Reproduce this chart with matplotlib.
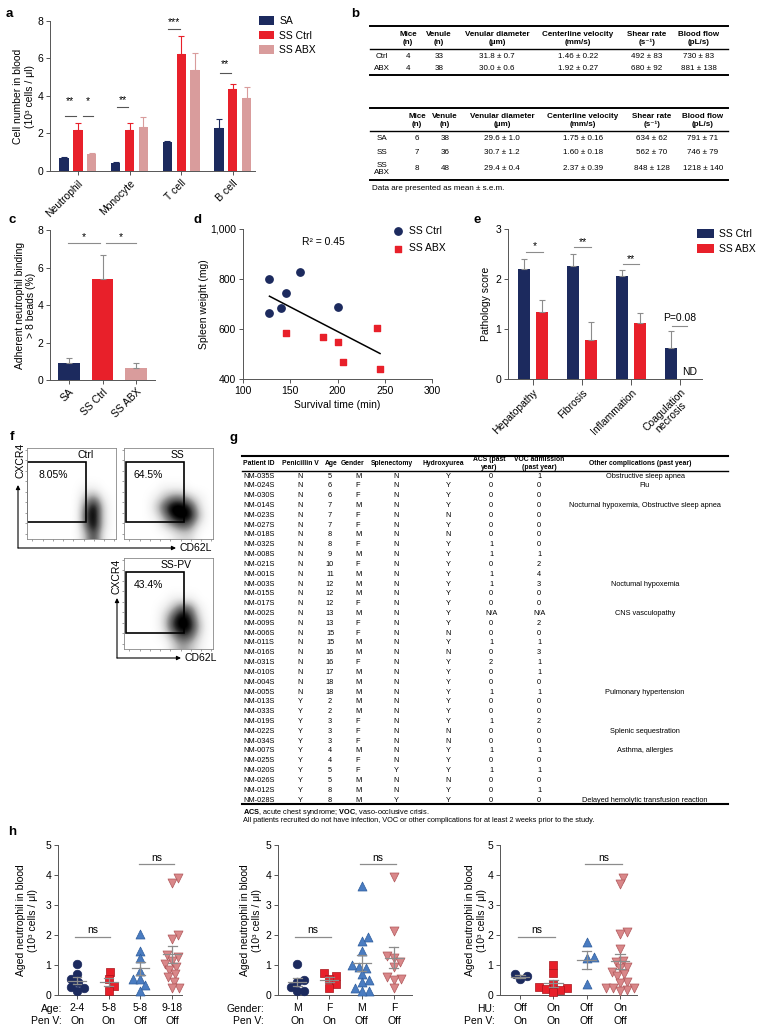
import numpy as np
import matplotlib
matplotlib.use("Agg")
import matplotlib.pyplot as plt
from matplotlib.patches import Rectangle
from matplotlib.ticker import FuncFormatter

plt.rcParams['font.family'] = ['Liberation Sans', 'DejaVu Sans']
plt.rcParams['mathtext.fontset'] = 'custom'
plt.rcParams['mathtext.rm'] = 'Liberation Sans'
plt.rcParams['mathtext.bf'] = 'Liberation Sans:bold'
plt.rcParams['font.size'] = 7.5
plt.rcParams['axes.linewidth'] = 0.7
plt.rcParams['axes.edgecolor'] = '#555555'
plt.rcParams['xtick.color'] = '#555555'
plt.rcParams['ytick.color'] = '#555555'
plt.rcParams['xtick.labelcolor'] = 'black'
plt.rcParams['ytick.labelcolor'] = 'black'

NAVY = '#1c2a5e'
RED = '#e8202a'
PINK = '#d99c9c'
BLUE = '#4a7cc1'
PINK2 = '#d98789'
GRAY = '#8c8c8c'

# ---- a: cell numbers in blood
cell_types = ['Neutrophil', 'Monocyte', 'T cell', 'B cell']
a_sa = [0.68, 0.43, 1.52, 2.30]
a_sa_err = [0.06, 0.05, 0.08, 0.46]
a_ctrl = [2.16, 2.17, 6.22, 4.35]
a_ctrl_err = [0.42, 0.40, 0.98, 0.27]
a_abx = [0.88, 2.37, 5.37, 3.87]
a_abx_err = [0.07, 0.52, 0.90, 0.62]

# ---- b: intravital tables
b1_group = ['Ctrl', 'ABX']
b1_mice = ['4', '4']
b1_venule = ['33', '38']
b1_diam = ['31.8 ± 0.7', '30.0 ± 0.6']
b1_vel = ['1.46 ± 0.22', '1.92 ± 0.27']
b1_shear = ['492 ± 83', '680 ± 92']
b1_flow = ['730 ± 83', '881 ± 138']

b2_group = ['SA', 'SS', 'SS\nABX']
b2_mice = ['6', '7', '8']
b2_venule = ['38', '36', '48']
b2_diam = ['29.6 ± 1.0', '30.7 ± 1.2', '29.4 ± 0.4']
b2_vel = ['1.75 ± 0.16', '1.60 ± 0.18', '2.37 ± 0.39']
b2_shear = ['634 ± 62', '562 ± 70', '848 ± 128']
b2_flow = ['791 ± 71', '746 ± 79', '1218 ± 140']

b_headers = ['Mice\n(n)', 'Venule\n(n)', 'Venular diameter\n(μm)',
             'Centerline velocity\n(mm/s)', 'Shear rate\n(s⁻¹)', 'Blood flow\n(pL/s)']

# ---- c: adherent neutrophils
c_groups = ['SA', 'SS Ctrl', 'SS ABX']
c_mean = [0.90, 5.40, 0.62]
c_err = [0.30, 1.25, 0.30]

# ---- d: spleen weight vs survival
d_ctrl_time = [128, 128, 140, 145, 160, 200]
d_ctrl_weight = [800, 664, 684, 744, 828, 688]
d_abx_time = [145, 185, 200, 206, 242, 245]
d_abx_weight = [584, 568, 550, 468, 604, 440]

# ---- e: pathology score
e_cats = ['Hepatopathy', 'Fibrosis', 'Inflammation', 'Coagulation\nnecrosis']
e_ctrl = [2.20, 2.26, 2.06, 0.62]
e_ctrl_err = [0.20, 0.24, 0.12, 0.34]
e_abx = [1.34, 0.78, 1.12, 0.0]
e_abx_err = [0.24, 0.36, 0.20, 0.0]

# ---- f: flow cytometry (event density read on a 10 x 10 grid, top row first)
f_ctrl = [[0] * 10] * 4 + [
    [0, 0, 0, 0, 0, 0, 1, 1, 0, 0],
    [0, 0, 0, 0, 0, 0, 3, 5, 1, 0],
    [0, 0, 0, 0, 0, 0, 5, 9, 2, 0],
    [0, 0, 0, 0, 0, 0, 6, 9, 2, 0],
    [0, 0, 0, 0, 0, 0, 5, 9, 2, 0],
    [0, 0, 0, 0, 0, 0, 3, 7, 1, 0]]
f_ss = [[0] * 10] * 4 + [
    [0, 0, 0, 0, 1, 1, 1, 0, 0, 0],
    [0, 0, 0, 1, 3, 5, 5, 3, 1, 0],
    [0, 0, 0, 2, 6, 9, 9, 7, 2, 0],
    [0, 0, 0, 1, 4, 8, 9, 8, 3, 0],
    [0, 0, 0, 0, 2, 4, 6, 5, 1, 0],
    [0, 0, 0, 0, 0, 1, 2, 2, 0, 0]]
f_sspv = [[0] * 10] * 4 + [
    [0, 0, 0, 0, 0, 1, 1, 1, 0, 0],
    [0, 0, 0, 0, 1, 3, 6, 5, 1, 0],
    [0, 0, 0, 0, 2, 6, 9, 7, 2, 0],
    [0, 0, 0, 0, 2, 7, 9, 8, 3, 0],
    [0, 0, 0, 0, 1, 4, 7, 6, 2, 0],
    [0, 0, 0, 0, 0, 2, 4, 3, 1, 0]]
f_titles = ['Ctrl', 'SS', 'SS-PV']
f_pct = ['8.05%', '64.5%', '43.4%']

# ---- g: patient table
g_headers = ['Patient ID', 'Penicillin V', 'Age', 'Gender', 'Splenectomy', 'Hydroxyurea',
             'ACS (past\nyear)', 'VOC admission\n(past year)', 'Other complications (past year)']
g_id = ['NM-035S', 'NM-024S', 'NM-030S', 'NM-014S', 'NM-023S', 'NM-027S', 'NM-018S', 'NM-032S',
        'NM-008S', 'NM-021S', 'NM-001S', 'NM-003S', 'NM-015S', 'NM-017S', 'NM-002S', 'NM-009S',
        'NM-006S', 'NM-011S', 'NM-016S', 'NM-031S', 'NM-010S', 'NM-004S', 'NM-005S', 'NM-013S',
        'NM-033S', 'NM-019S', 'NM-022S', 'NM-034S', 'NM-007S', 'NM-025S', 'NM-020S', 'NM-026S',
        'NM-012S', 'NM-028S']
g_penv = ['N'] * 23 + ['Y'] * 11
g_age = [5, 6, 6, 7, 7, 7, 8, 8, 9, 10, 11, 12, 12, 12, 13, 13, 15, 15, 16, 16, 17, 18, 18,
         2, 2, 3, 3, 3, 4, 4, 5, 5, 8, 8]
g_gender = ['M', 'F', 'F', 'M', 'F', 'F', 'M', 'F', 'M', 'F', 'M', 'M', 'M', 'F', 'M', 'F', 'F',
            'M', 'M', 'F', 'M', 'M', 'M', 'M', 'M', 'F', 'F', 'F', 'M', 'F', 'F', 'M', 'M', 'M']
g_splen = ['N'] * 30 + ['Y', 'N', 'N', 'Y']
g_hu = ['Y', 'Y', 'Y', 'Y', 'N', 'Y', 'N', 'Y', 'Y', 'Y', 'Y', 'Y', 'Y', 'Y', 'Y', 'Y', 'N',
        'Y', 'N', 'Y', 'Y', 'Y', 'Y', 'Y', 'Y', 'Y', 'N', 'N', 'Y', 'Y', 'Y', 'N', 'Y', 'Y']
g_acs = ['0', '0', '0', '0', '0', '0', '0', '1', '1', '0', '1', '1', '0', '0', 'N/A', '0', '0',
         '1', '0', '2', '0', '0', '1', '0', '0', '1', '0', '0', '1', '0', '1', '0', '0', '0']
g_voc = ['1', '0', '0', '0', '0', '0', '0', '0', '1', '2', '4', '3', '0', '0', 'N/A', '2', '0',
         '1', '3', '1', '1', '0', '1', '0', '0', '2', '0', '0', '1', '0', '1', '0', '1', '0']
g_other = [''] * 34
g_other[0] = 'Obstructive sleep apnea'
g_other[1] = 'Flu'
g_other[3] = 'Nocturnal hypoxemia, Obstructive sleep apnea'
g_other[11] = 'Noctumal hypoxemia'
g_other[14] = 'CNS vasculopathy'
g_other[22] = 'Pulmonary hypertension'
g_other[26] = 'Splenic sequestration'
g_other[28] = 'Asthma, allergies'
g_other[33] = 'Delayed hemolytic transfusion reaction'

# ---- h: aged neutrophils in patients
h_age_ticks = ['2-4\nOn', '5-8\nOn', '5-8\nOff', '9-18\nOff']
h_age_24_on = [1.02, 0.70, 0.55, 0.42, 0.28, 0.22, 0.12]
h_age_58_on = [0.78, 0.55, 0.30, 0.12]
h_age_58_off = [2.05, 1.48, 1.22, 0.80, 0.55, 0.52, 0.33, 0.15]
h_age_918_off = [3.90, 3.75, 2.00, 1.88, 1.32, 1.28, 1.15, 1.05, 0.95, 0.85, 0.70, 0.60,
                 0.45, 0.25, 0.22]
h_sex_ticks = ['M\nOn', 'F\nOn', 'M\nOff', 'F\nOff']
h_m_on = [1.02, 0.50, 0.45, 0.28, 0.15, 0.12]
h_f_on = [0.72, 0.65, 0.55, 0.38, 0.25]
h_m_off = [3.62, 1.92, 1.80, 1.48, 1.00, 0.95, 0.90, 0.70, 0.50, 0.45, 0.25, 0.15, 0.12]
h_f_off = [3.92, 2.12, 1.30, 1.25, 1.10, 0.95, 0.60, 0.52, 0.50, 0.22]
h_hu_ticks = ['Off\nOn', 'On\nOn', 'Off\nOff', 'On\nOff']
h_huoff_on = [0.70, 0.62, 0.52]
h_huon_on = [1.00, 0.74, 0.36, 0.28, 0.22, 0.20, 0.17, 0.11]
h_huoff_off = [1.78, 1.24, 1.26, 0.36]
h_huon_off = [3.91, 3.69, 2.10, 2.03, 1.55, 1.15, 1.10, 0.95, 0.90, 0.78, 0.70, 0.62, 0.45,
              0.40, 0.25, 0.25, 0.22, 0.18, 0.15]

W, H = 768, 1035
fig = plt.figure(figsize=(W / 100, H / 100), dpi=100)
ov = fig.add_axes([0, 0, 1, 1])
ov.set_xlim(0, W)
ov.set_ylim(H, 0)
ov.axis('off')


def axpx(x0, y0, x1, y1):
    return fig.add_axes([x0 / W, 1 - y1 / H, (x1 - x0) / W, (y1 - y0) / H])


def clean(ax):
    for s in ['top', 'right']:
        ax.spines[s].set_visible(False)
    ax.tick_params(length=3, width=0.7, labelsize=7.5, pad=2)
    ax.patch.set_alpha(0)


def sig(ax, x1, x2, y, ty, s, col='#555555'):
    ax.plot([x1, x2], [y, y], color=col, lw=0.8, clip_on=False)
    ax.text((x1 + x2) / 2, ty, s, ha='center', va='center', fontsize=7.5)


for lab, x, y in [('a', 9, 14), ('b', 355, 14), ('c', 12, 220), ('d', 197, 220),
                  ('e', 477, 220), ('f', 12, 437), ('g', 233, 438), ('h', 12, 832)]:
    ov.text(x, y, lab, fontsize=9.5, fontweight='bold', ha='center', va='center')

# ---------------- a
ax = axpx(50, 21, 255, 171)
clean(ax)
xa = np.arange(len(cell_types))
for off, vals, errs, col, lab in [(-0.27, a_sa, a_sa_err, NAVY, 'SA'),
                                  (0.0, a_ctrl, a_ctrl_err, RED, 'SS Ctrl'),
                                  (0.27, a_abx, a_abx_err, PINK, 'SS ABX')]:
    ax.bar(xa + off, vals, 0.18, color=col, label=lab,
           yerr=[np.zeros(len(vals)), errs],
           error_kw=dict(ecolor=col, elinewidth=0.8, capsize=2, capthick=0.8))
ax.set_xlim(-0.54, 3.43)
ax.set_ylim(0, 8)
ax.set_yticks([0, 2, 4, 6, 8])
ax.set_xticks(xa)
ax.set_xticklabels(cell_types, rotation=45, ha='right', rotation_mode='anchor')
ax.set_ylabel('Cell number in blood\n(10³ cells / μl)', fontsize=7.5)
ax.yaxis.set_label_coords(-0.075, 0.5)
sig(ax, -0.25, -0.04, 2.93, 3.75, '**')
sig(ax, 0.10, 0.29, 2.93, 3.75, '*')
sig(ax, 0.75, 0.98, 3.40, 3.78, '**')
sig(ax, 1.75, 1.98, 7.60, 7.92, '***')
sig(ax, 2.75, 2.96, 5.23, 5.70, '**')
ax.legend(loc='upper left', bbox_to_anchor=(259 / W, 1 - 16 / H),
          bbox_transform=fig.transFigure, frameon=False, fontsize=7.5,
          handlelength=1.45, handleheight=0.9, handletextpad=0.5,
          labelspacing=0.45, borderaxespad=0, borderpad=0)


# ---------------- b
def table(x0, x1, top, hdr_y, hdr_line, bottom, col_x, row_y, groups, cols, fs=5.8):
    for y, lw in [(top, 1.4), (hdr_line, 1.0), (bottom, 1.4)]:
        ov.plot([x0, x1], [y, y], color='black', lw=lw)
    for xh, h in zip(col_x[1:], b_headers):
        ov.text(xh, hdr_y, h, ha='center', va='center', fontsize=fs,
                fontweight='bold', linespacing=1.25)
    for i, y in enumerate(row_y):
        ov.text(col_x[0], y, groups[i], ha='center', va='center', fontsize=fs,
                linespacing=1.15)
        for xc, col in zip(col_x[1:], cols):
            ov.text(xc, y, col[i], ha='center', va='center', fontsize=fs)


table(370, 728, 26, 38.5, 49, 75, [382, 408, 439, 497, 578, 647, 699], [56, 69],
      b1_group, [b1_mice, b1_venule, b1_diam, b1_vel, b1_shear, b1_flow])
table(370, 728, 108, 120.5, 131, 180, [382, 417, 445, 502, 583, 652, 703], [138, 152, 169],
      b2_group, [b2_mice, b2_venule, b2_diam, b2_vel, b2_shear, b2_flow])
ov.text(372, 189, 'Data are presented as mean ± s.e.m.', ha='left', va='center', fontsize=5.8)

# ---------------- c
ax = axpx(50, 230, 155, 380)
clean(ax)
xc = np.arange(len(c_groups))
ax.bar(xc, c_mean, 0.65, color=[NAVY, RED, PINK],
       yerr=[np.zeros(3), c_err],
       error_kw=dict(ecolor=GRAY, elinewidth=0.8, capsize=2.5, capthick=0.8))
ax.set_xlim(-0.57, 2.57)
ax.set_ylim(0, 8)
ax.set_yticks([0, 2, 4, 6, 8])
ax.set_xticks(xc)
ax.set_xticklabels(c_groups, rotation=45, ha='right', rotation_mode='anchor')
ax.set_ylabel('Adherent neutrophil binding\n> 8 beads (%)', fontsize=7.5)
ax.yaxis.set_label_coords(-0.13, 0.5)
sig(ax, -0.03, 0.93, 7.3, 7.62, '*', col=GRAY)
sig(ax, 1.10, 2.00, 7.3, 7.62, '*', col=GRAY)

# ---------------- d
ax = axpx(243, 229, 432, 379)
clean(ax)
ax.scatter(d_ctrl_time, d_ctrl_weight, s=28, marker='o', color=NAVY, label='SS Ctrl', zorder=3)
ax.scatter(d_abx_time, d_abx_weight, s=24, marker='s', color=RED, label='SS ABX', zorder=3)
d_t = np.array(d_ctrl_time + d_abx_time, float)
d_w = np.array(d_ctrl_weight + d_abx_weight, float)
slope, icpt = np.polyfit(d_t, d_w, 1)
xx = np.array([d_t.min(), d_t.max()])
ax.plot(xx, slope * xx + icpt, color='black', lw=1.1)
ax.set_xlim(100, 300)
ax.set_ylim(400, 1000)
ax.set_xticks([100, 150, 200, 250, 300])
ax.set_yticks([400, 600, 800, 1000])
ax.yaxis.set_major_formatter(FuncFormatter(lambda v, p: f'{v:,.0f}'))
ax.set_xlabel('Survival time (min)', fontsize=7.5, labelpad=3)
ax.set_ylabel('Spleen weight (mg)', fontsize=7.5)
ax.yaxis.set_label_coords(-0.18, 0.5)
ax.text(323, 242, 'R² = 0.45', transform=ov.transData, ha='center', va='center', fontsize=7.5)
ax.legend(loc='upper left', bbox_to_anchor=(394 / W, 1 - 226 / H),
          bbox_transform=fig.transFigure, frameon=False, fontsize=7.5,
          handlelength=0.8, handletextpad=0.6, labelspacing=0.7,
          borderaxespad=0, borderpad=0, scatterpoints=1)

# ---------------- e
ax = axpx(508, 229, 702, 379)
clean(ax)
xe = np.arange(len(e_cats))
ax.bar(xe - 0.185, e_ctrl, 0.26, color=NAVY, label='SS Ctrl',
       yerr=[np.zeros(4), e_ctrl_err],
       error_kw=dict(ecolor=GRAY, elinewidth=0.8, capsize=2, capthick=0.8))
ax.bar(xe[:3] + 0.185, e_abx[:3], 0.26, color=RED, label='SS ABX',
       yerr=[np.zeros(3), e_abx_err[:3]],
       error_kw=dict(ecolor=GRAY, elinewidth=0.8, capsize=2, capthick=0.8))
ax.set_xlim(-0.51, 3.45)
ax.set_ylim(0, 3)
ax.set_yticks([0, 1, 2, 3])
ax.set_xticks(xe)
ax.set_xticklabels(e_cats, rotation=45, ha='right', rotation_mode='anchor',
                   multialignment='center', linespacing=1.0)
ax.tick_params(axis='x', length=4)
ax.set_ylabel('Pathology score', fontsize=7.5)
ax.yaxis.set_label_coords(-0.09, 0.5)
sig(ax, -0.14, 0.20, 2.54, 2.66, '*', col=GRAY)
sig(ax, 0.84, 1.18, 2.64, 2.74, '**', col=GRAY)
sig(ax, 1.84, 2.16, 2.30, 2.40, '**', col=GRAY)
sig(ax, 2.84, 3.14, 1.06, 1.22, 'P=0.08', col=GRAY)
ax.text(3.2, 0.14, 'ND', ha='center', va='center', fontsize=7.5)
ax.legend(loc='upper left', bbox_to_anchor=(697 / W, 1 - 229 / H),
          bbox_transform=fig.transFigure, frameon=False, fontsize=7.5,
          handlelength=1.6, handleheight=0.9, handletextpad=0.5,
          labelspacing=0.5, borderaxespad=0, borderpad=0)

# ---------------- f
f_boxes = [(27, 448, 116, 539), (124, 448, 213, 539), (124, 558, 213, 649)]
f_gates = [(0.0, 1.87, 6.6, 6.59), (0.2, 1.87, 6.5, 6.59), (0.2, 1.76, 6.5, 6.70)]
f_title_x = [6.6, 6.0, 5.9]
for box, dens, gate, ttl, tx, pct in zip(f_boxes, [f_ctrl, f_ss, f_sspv], f_gates,
                                         f_titles, f_title_x, f_pct):
    ax = axpx(*box)
    ax.imshow(np.array(dens, float), cmap='Greys', vmin=0, vmax=8, extent=(0, 10, 0, 10),
              interpolation='bicubic', aspect='auto', origin='upper')
    ax.add_patch(Rectangle(gate[:2], gate[2], gate[3], fill=False, lw=1.2, ec='black'))
    ax.set_xlim(0, 10)
    ax.set_ylim(0, 10)
    ax.set_xticks(np.arange(0.6, 10, 1.15))
    ax.set_yticks(np.arange(0.6, 10, 1.15))
    ax.tick_params(length=1.5, width=0.5, labelleft=False, labelbottom=False,
                   colors='#777777')
    for s in ax.spines.values():
        s.set_color('#888888')
        s.set_linewidth(0.6)
    ax.text(tx, 9.2, ttl, ha='center', va='center', fontsize=7.5)
    ax.text(3.0 if ttl == 'Ctrl' else 2.7, 7.0, pct, ha='center', va='center', fontsize=7.5)

arrow = dict(arrowstyle='-|>', lw=0.8, color='black', mutation_scale=6,
             shrinkA=0, shrinkB=0)
ov.annotate('', xy=(18, 485), xytext=(18, 548), arrowprops=arrow)
ov.annotate('', xy=(176, 548), xytext=(18, 548), arrowprops=arrow)
ov.annotate('', xy=(117, 598), xytext=(117, 658), arrowprops=arrow)
ov.annotate('', xy=(181, 658), xytext=(117, 658), arrowprops=arrow)
ov.text(21, 460, 'CXCR4', rotation=90, ha='center', va='center', fontsize=7.5)
ov.text(117, 576, 'CXCR4', rotation=90, ha='center', va='center', fontsize=7.5)
ov.text(196, 548, 'CD62L', ha='center', va='center', fontsize=7.5)
ov.text(201, 658, 'CD62L', ha='center', va='center', fontsize=7.5)

# ---------------- g
gx0, gx1 = 242, 728
hdr_x = [243, 300, 331, 353, 392, 443, 489, 539, 640]
col_x = [243, 300, 330, 358, 396, 448, 491, 539, 645]
gfs = 5.3
ov.plot([gx0, gx1], [456, 456], color='black', lw=1.5)
ov.plot([gx0, gx1], [471, 471], color='black', lw=1.0)
ov.plot([gx0, gx1], [804, 804], color='black', lw=1.5)
for i, (xh, h) in enumerate(zip(hdr_x, g_headers)):
    ov.text(xh, 463.5, h, ha='left' if i == 0 else 'center',
            va='center', fontsize=4.9, fontweight='bold', linespacing=1.1)
g_cols = [g_id, g_penv, [str(a) for a in g_age], g_gender, g_splen, g_hu, g_acs, g_voc, g_other]
for r in range(len(g_id)):
    y = 476 + r * 9.82
    for j, (xc_, col) in enumerate(zip(col_x, g_cols)):
        ov.text(xc_, y, col[r], ha='left' if j == 0 else 'center', va='center', fontsize=gfs)
ov.text(243, 812, r'$\bf{ACS}$, acute chest syndrome; $\bf{VOC}$, vaso-occlusive crisis.',
        ha='left', va='center', fontsize=gfs)
ov.text(243, 820, 'All patients recruited do not have infection, VOC or other complications '
        'for at least 2 weeks prior to the study.', ha='left', va='center', fontsize=gfs)


# ---------------- h
def swarm_x(vals, center, px_x, px_y, dmin=7.0, step=0.7):
    vals = np.asarray(vals, float)
    out = np.full(len(vals), float(center))
    placed = []
    for i in np.argsort(vals):
        y = vals[i] * px_y
        k = 0
        while True:
            off = ((k + 1) // 2) * step * (1 if k % 2 else -1)
            if all((off - px) ** 2 + (y - py) ** 2 >= dmin ** 2 for px, py in placed):
                break
            k += 1
        placed.append((off, y))
        out[i] = center + off / px_x
    return out


h_styles = [('o', NAVY, NAVY, 38), ('s', RED, '#a8141b', 36),
            ('^', BLUE, '#2f5d9c', 42), ('v', PINK2, '#b0585b', 42)]
h_panels = [
    ((58, 845, 182, 995), (-0.6, 3.31), h_age_ticks,
     [h_age_24_on, h_age_58_on, h_age_58_off, h_age_918_off], 'Age:\nPen V:', 62, 38),
    ((278, 845, 412, 995), (-0.59, 3.56), h_sex_ticks,
     [h_m_on, h_f_on, h_m_off, h_f_off], 'Gender:\nPen V:', 264, 262),
    ((500, 845, 637, 995), (-0.6, 3.51), h_hu_ticks,
     [h_huoff_on, h_huon_on, h_huoff_off, h_huon_off], 'HU:\nPen V:', 495, 487),
]
for box, xl, ticks, groups, rowlab, rx, ylab_right in h_panels:
    ax = axpx(*box)
    clean(ax)
    pxx = (box[2] - box[0]) / (xl[1] - xl[0])
    pxy = (box[3] - box[1]) / 5.0
    for gi, (vals, (mk, fc, ec, sz)) in enumerate(zip(groups, h_styles)):
        xs = swarm_x(vals, gi, pxx, pxy)
        ax.scatter(xs, vals, marker=mk, s=sz, facecolor=fc, edgecolor=ec, lw=0.5,
                   zorder=3, clip_on=False)
        m = np.mean(vals)
        se = np.std(vals, ddof=1) / np.sqrt(len(vals))
        ax.plot([gi - 0.28, gi + 0.28], [m, m], color=GRAY, lw=0.9, zorder=4)
        ax.plot([gi, gi], [m - se, m + se], color=GRAY, lw=0.9, zorder=4)
        for yy in (m - se, m + se):
            ax.plot([gi - 0.14, gi + 0.14], [yy, yy], color=GRAY, lw=0.9, zorder=4)
    ax.set_xlim(*xl)
    ax.set_ylim(0, 5)
    ax.set_yticks([0, 1, 2, 3, 4, 5])
    ax.set_xticks(range(4))
    ax.set_xticklabels(ticks, linespacing=1.35)
    ax.tick_params(axis='x', pad=3)
    ax.plot([-0.05, 1.05], [1.95, 1.95], color=GRAY, lw=0.9)
    ax.text(0.5, 2.18, 'ns', ha='center', va='center', fontsize=7.5)
    ax.plot([1.95, 3.05], [4.37, 4.37], color=GRAY, lw=0.9)
    ax.text(2.5, 4.58, 'ns', ha='center', va='center', fontsize=7.5)
    ax.set_ylabel('Aged neutrophil in blood\n(10³ cells / μl)', fontsize=7.5)
    ax.yaxis.set_label_coords((ylab_right - box[0]) / (box[2] - box[0]), 0.5)
    ov.text(rx, 1015, rowlab, ha='right', va='center', fontsize=7.5,
            multialignment='right', linespacing=1.35)

fig.savefig('out.png', dpi=100)
